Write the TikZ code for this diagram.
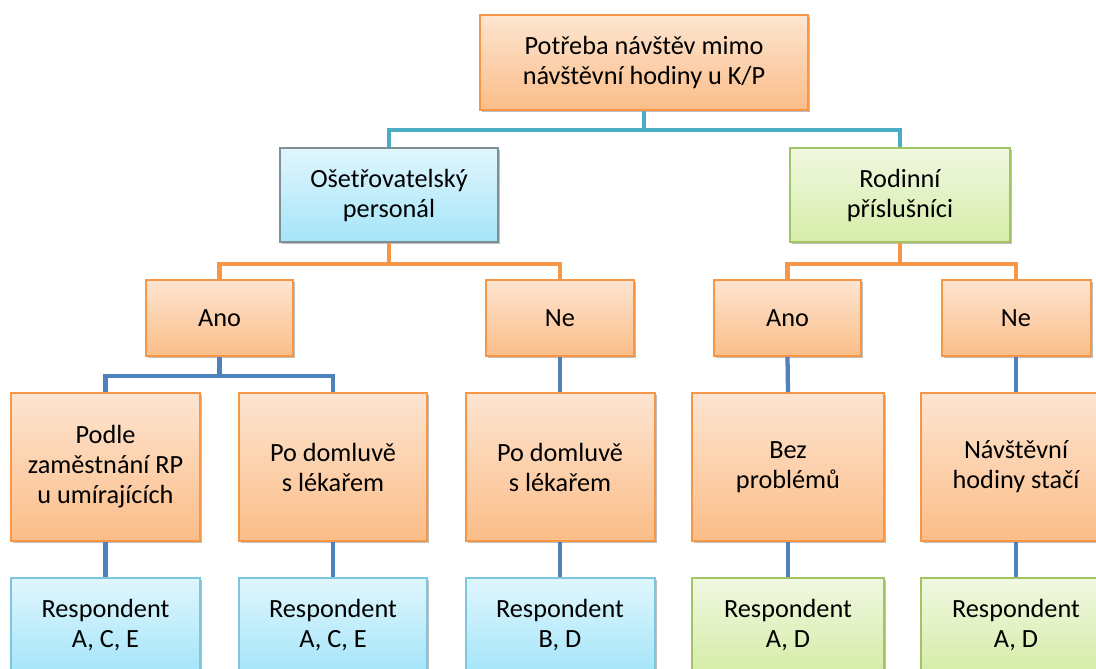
\documentclass[tikz,border=0pt]{standalone}
\usepackage{fontspec}
\setmainfont{Carlito}
\usetikzlibrary{shadows}

\definecolor{orTop}{HTML}{FDE5D1}
\definecolor{orBot}{HTML}{FBBD88}
\definecolor{orLine}{HTML}{F79646}
\definecolor{blTop}{HTML}{E0F6FD}
\definecolor{blBot}{HTML}{A5E5F9}
\definecolor{blLine}{HTML}{7DC6DF}
\definecolor{grayLine}{HTML}{7F8F96}
\definecolor{grTop}{HTML}{F0F8E1}
\definecolor{grBot}{HTML}{D6ECA8}
\definecolor{grLine}{HTML}{A3C464}
\definecolor{tealConn}{HTML}{4BACC6}
\definecolor{blueConn}{HTML}{4F81BD}

\tikzset{
  box/.style={rectangle, align=center, inner sep=2pt, line width=1.5pt,
    font=\fontsize{19.7}{22.5}\selectfont,
    drop shadow={shadow xshift=1.5pt, shadow yshift=-1.5pt, opacity=0.25, fill=black}},
  orbox/.style={box, draw=orLine, top color=orTop, bottom color=orBot},
  blbox/.style={box, draw=blLine, top color=blTop, bottom color=blBot},
  grbox/.style={box, draw=grLine, top color=grTop, bottom color=grBot},
  sz/.style 2 args={minimum width=#1*0.75pt, minimum height=#2*0.75pt},
  conn/.style={line width=3.2pt, line join=miter},
}

\begin{document}
\begin{tikzpicture}[x=0.75pt, y=-0.75pt]
\useasboundingbox (0,0) rectangle (1096,668);

% top level
\node[orbox, sz={328}{95}] (root) at (644,62.5) {Potřeba návštěv mimo\\návštěvní hodiny u K/P};

% second level
\node[blbox, draw=grayLine, sz={218}{94}] (ose) at (389,195) {Ošetřovatelský\\personál};
\node[grbox, sz={220}{94}] (rod) at (900,195) {Rodinní\\příslušníci};

% answers
\node[orbox, sz={147}{76}] (ano1) at (219.5,318) {Ano};
\node[orbox, sz={148}{76}] (ne1) at (560,318) {Ne};
\node[orbox, sz={147}{76}] (ano2) at (787.5,318) {Ano};
\node[orbox, sz={149}{76}] (ne2) at (1016,318) {Ne};

% reasons
\node[orbox, sz={189}{148}] (m1) at (105.5,467) {Podle\\zaměstnání RP\\u umírajících};
\node[orbox, sz={188}{148}] (m2) at (333,467) {Po domluvě\\s lékařem};
\node[orbox, sz={189}{148}] (m3) at (560,467) {Po domluvě\\s lékařem};
\node[orbox, sz={192}{148}] (m4) at (788,467) {Bez\\problémů};
\node[orbox, sz={190}{148}] (m5) at (1016,467) {Návštěvní\\hodiny stačí};

% respondents
\node[blbox, sz={189}{94}] (r1) at (105.5,625) {Respondent\\A, C, E};
\node[blbox, sz={188}{94}] (r2) at (333,625) {Respondent\\A, C, E};
\node[blbox, sz={189}{94}] (r3) at (560,625) {Respondent\\B, D};
\node[grbox, sz={192}{94}] (r4) at (788,625) {Respondent\\A, D};
\node[grbox, sz={190}{94}] (r5) at (1016,625) {Respondent\\A, D};

% connectors
\draw[conn, tealConn] (root.south) -- ++(0,19) -| (ose.north);
\draw[conn, tealConn] (root.south) -- ++(0,19) -| (rod.north);

\draw[conn, orLine] (ose.south) -- ++(0,21) -| (ano1.north);
\draw[conn, orLine] (ose.south) -- ++(0,21) -| (ne1.north);
\draw[conn, orLine] (rod.south) -- ++(0,21) -| (ano2.north);
\draw[conn, orLine] (rod.south) -- ++(0,21) -| (ne2.north);

\draw[conn, blueConn] (ano1.south) -- ++(0,19) -| (m1.north);
\draw[conn, blueConn] (ano1.south) -- ++(0,19) -| (m2.north);
\draw[conn, blueConn] (ne1.south) -- (m3.north);
\draw[conn, blueConn] (ano2.south) -- (m4.north);
\draw[conn, blueConn] (ne2.south) -- (m5.north);

\draw[conn, blueConn] (m1.south) -- (r1.north);
\draw[conn, blueConn] (m2.south) -- (r2.north);
\draw[conn, blueConn] (m3.south) -- (r3.north);
\draw[conn, blueConn] (m4.south) -- (r4.north);
\draw[conn, blueConn] (m5.south) -- (r5.north);
\end{tikzpicture}
\end{document}
